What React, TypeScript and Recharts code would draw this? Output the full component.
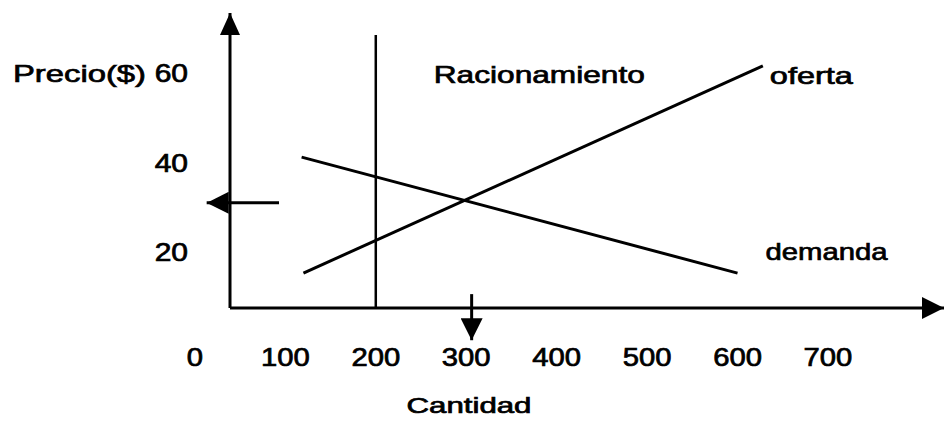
import React from 'react';
import { ComposedChart, Line, XAxis, YAxis, ReferenceLine } from 'recharts';

// ---- data ----
const quantityTicks = [0, 100, 200, 300, 400, 500, 600, 700];
const priceTicks = [20, 40, 60];

const supplyQ = [120, 628];
const supplyP = [15.4, 61.7];
const demandQ = [118, 600];
const demandP = [41.3, 15.4];

const rationingQ = 200;
const rationingTopP = 68.6;

const ceilingPrice = 31.1;
const ceilingArrowQ = [93, 13];
const quantityArrowQ = 306;
const quantityArrowP = [10.7, 0.4];

const xDomain = [38.8, 828.3];
const yDomain = [7.6, 73.5];

const supplyData = supplyQ.map((q, i) => ({ q, p: supplyP[i] }));
const demandData = demandQ.map((q, i) => ({ q, p: demandP[i] }));

const FONT = "Arial, 'Liberation Sans', sans-serif";
const TEXT_STROKE = 0.7;

function SText({ x, y, w, size, anchor = 'start', children }: any) {
  return (
    <text
      x={x}
      y={y}
      fontFamily={FONT}
      fontSize={size}
      fill="#000"
      stroke="#000"
      strokeWidth={TEXT_STROKE}
      textAnchor={anchor}
      textLength={w}
      lengthAdjust="spacingAndGlyphs"
    >
      {children}
    </text>
  );
}

const XTick = (props: any) => {
  const { x, y, payload } = props;
  const s = String(payload.value);
  return (
    <g transform={`translate(${x},${y + 58}) scale(1.17,1)`}>
      <text x={0} y={0} textAnchor="middle" fontFamily={FONT} fontSize={25} fill="#000" stroke="#000" strokeWidth={TEXT_STROKE}>
        {s}
      </text>
    </g>
  );
};

const YTick = (props: any) => {
  const { x, y, payload } = props;
  return (
    <g transform={`translate(${x - 42},${y + 9}) scale(1.2,1)`}>
      <text x={0} y={0} textAnchor="end" fontFamily={FONT} fontSize={25} fill="#000" stroke="#000" strokeWidth={TEXT_STROKE}>
        {String(payload.value)}
      </text>
    </g>
  );
};

const arrowShape = (p: any) => (
  <line
    x1={p.x1}
    y1={p.y1}
    x2={p.x2}
    y2={p.y2}
    stroke="#000"
    strokeWidth={3}
    markerEnd="url(#ahEnd)"
  />
);

const endLabel = (text: string, dx: number, dy: number, w: number, last: number) => (props: any) => {
  const { x, y, index } = props;
  if (index !== last) return null;
  return (
    <SText x={x + dx} y={y + dy} w={w} size={24}>
      {text}
    </SText>
  );
};

export default function App() {
  return (
    <div style={{ position: 'absolute', left: 0, top: 0, width: 945, height: 421, background: '#fff' }}>
      <svg width={0} height={0} style={{ position: 'absolute' }}>
        <defs>
          <marker id="ahEnd" markerUnits="userSpaceOnUse" viewBox="0 0 22 22" markerWidth={22} markerHeight={22} refX={22} refY={11} orient="auto">
            <path d="M0,0 L22,11 L0,22 Z" fill="#000" />
          </marker>
          <marker id="ahStart" markerUnits="userSpaceOnUse" viewBox="0 0 22 20" markerWidth={22} markerHeight={20} refX={22} refY={10} orient="auto-start-reverse">
            <path d="M0,0 L22,10 L0,20 Z" fill="#000" />
          </marker>
        </defs>
      </svg>
      <ComposedChart width={945} height={421} margin={{ top: 13, right: 1, bottom: 53, left: 150 }}>
        <XAxis
          type="number"
          dataKey="q"
          domain={xDomain}
          allowDataOverflow
          ticks={quantityTicks}
          interval={0}
          tickLine={false}
          tickSize={0}
          tickMargin={0}
          height={60}
          axisLine={{ stroke: '#000', strokeWidth: 3, markerEnd: 'url(#ahEnd)' }}
          tick={<XTick />}
          label={{
            content: (p: any) => {
              const vb = p.viewBox;
              return (
                <SText x={vb.x + 239} y={vb.y + 105} w={125} size={22} anchor="middle">
                  Cantidad
                </SText>
              );
            },
          }}
        />
        <YAxis
          type="number"
          domain={yDomain}
          allowDataOverflow
          ticks={priceTicks}
          interval={0}
          tickLine={false}
          tickSize={0}
          tickMargin={0}
          width={80}
          axisLine={{ stroke: '#000', strokeWidth: 3, markerStart: 'url(#ahStart)' }}
          tick={<YTick />}
          label={{
            content: () => (
              <SText x={13} y={82} w={133} size={24}>
                Precio($)
              </SText>
            ),
          }}
        />
        <ReferenceLine
          segment={[
            { x: rationingQ, y: yDomain[0] },
            { x: rationingQ, y: rationingTopP },
          ]}
          stroke="#000"
          strokeWidth={2.5}
          ifOverflow="visible"
          label={{
            content: (p: any) => {
              const vb = p.viewBox;
              return (
                <SText x={vb.x + 58} y={vb.y + 48} w={211} size={24}>
                  Racionamiento
                </SText>
              );
            },
          }}
        />
        <ReferenceLine
          segment={[
            { x: ceilingArrowQ[0], y: ceilingPrice },
            { x: ceilingArrowQ[1], y: ceilingPrice },
          ]}
          ifOverflow="visible"
          shape={arrowShape}
        />
        <ReferenceLine
          segment={[
            { x: quantityArrowQ, y: quantityArrowP[0] },
            { x: quantityArrowQ, y: quantityArrowP[1] },
          ]}
          ifOverflow="visible"
          shape={arrowShape}
        />
        <Line
          data={supplyData}
          dataKey="p"
          type="linear"
          stroke="#000"
          strokeWidth={3}
          dot={false}
          isAnimationActive={false}
          label={endLabel('oferta', 7, 18, 83, supplyData.length - 1)}
        />
        <Line
          data={demandData}
          dataKey="p"
          type="linear"
          stroke="#000"
          strokeWidth={3}
          dot={false}
          isAnimationActive={false}
          label={endLabel('demanda', 28, -13, 122, demandData.length - 1)}
        />
      </ComposedChart>
    </div>
  );
}
